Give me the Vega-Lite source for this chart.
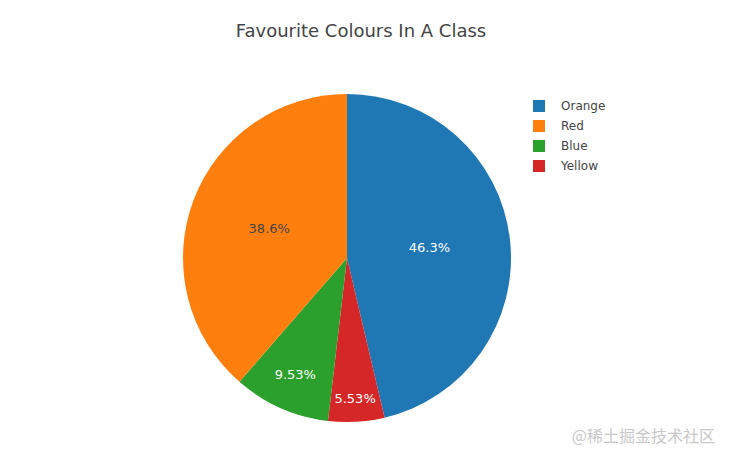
{
  "$schema": "https://vega.github.io/schema/vega-lite/v6.json",
  "autosize": "none",
  "width": 694,
  "height": 410,
  "padding": {"left": 0, "top": 53, "right": 36, "bottom": 0},
  "background": "white",
  "title": {
    "text": "Favourite Colours In A Class",
    "fontSize": 18,
    "font": "DejaVu Sans",
    "fontWeight": "normal",
    "color": "#444444",
    "anchor": "middle",
    "baseline": "alphabetic",
    "dx": 14,
    "offset": -2
  },
  "datasets": {
    "colours": [
      {"colour": "Orange", "share": 0.463, "rank": 1},
      {"colour": "Yellow", "share": 0.0553, "rank": 2},
      {"colour": "Blue", "share": 0.0953, "rank": 3},
      {"colour": "Red", "share": 0.386, "rank": 4}
    ],
    "watermark": [{"note": "@稀土掘金技术社区"}]
  },
  "layer": [
    {
      "data": {"name": "colours"},
      "mark": {"type": "arc", "outerRadius": 164},
      "encoding": {
        "theta": {"field": "share", "type": "quantitative", "stack": true},
        "order": {"field": "rank", "type": "quantitative"},
        "color": {
          "field": "colour",
          "type": "nominal",
          "scale": {
            "domain": ["Orange", "Red", "Blue", "Yellow"],
            "range": ["#1f77b4", "#ff7f0e", "#2ca02c", "#d62728"]
          },
          "legend": {
            "title": null,
            "orient": "none",
            "legendX": 533,
            "legendY": 47,
            "padding": 0,
            "symbolType": "square",
            "symbolSize": 144,
            "symbolStrokeWidth": 0,
            "symbolOpacity": 1,
            "labelFont": "DejaVu Sans",
            "labelFontSize": 12,
            "labelColor": "#444444",
            "labelOffset": 16,
            "rowPadding": 8
          }
        }
      }
    },
    {
      "data": {"name": "colours"},
      "mark": {"type": "text", "radius": 83, "font": "DejaVu Sans", "fontSize": 13},
      "encoding": {
        "theta": {"field": "share", "type": "quantitative", "stack": true},
        "order": {"field": "rank", "type": "quantitative"},
        "text": {
          "condition": {"test": "datum.share > 0.2", "field": "share", "type": "quantitative", "format": ".3~%"},
          "value": ""
        },
        "color": {
          "condition": {"test": "datum.colour === 'Red'", "value": "#444444"},
          "value": "#ffffff"
        }
      }
    },
    {
      "data": {"name": "colours"},
      "mark": {"type": "text", "radius": 128, "font": "DejaVu Sans", "fontSize": 13, "color": "#ffffff"},
      "encoding": {
        "theta": {"field": "share", "type": "quantitative", "stack": true},
        "order": {"field": "rank", "type": "quantitative"},
        "text": {
          "condition": {"test": "datum.colour === 'Blue'", "field": "share", "type": "quantitative", "format": ".3~%"},
          "value": ""
        }
      }
    },
    {
      "data": {"name": "colours"},
      "mark": {"type": "text", "radius": 141, "font": "DejaVu Sans", "fontSize": 13, "color": "#ffffff"},
      "encoding": {
        "theta": {"field": "share", "type": "quantitative", "stack": true},
        "order": {"field": "rank", "type": "quantitative"},
        "text": {
          "condition": {"test": "datum.colour === 'Yellow'", "field": "share", "type": "quantitative", "format": ".3~%"},
          "value": ""
        }
      }
    },
    {
      "data": {"name": "watermark"},
      "mark": {
        "type": "text",
        "x": {"expr": "width + 21"},
        "y": {"expr": "height - 26"},
        "align": "right",
        "baseline": "middle",
        "font": "Noto Sans CJK SC",
        "fontSize": 16,
        "color": "#c8c8c8"
      },
      "encoding": {
        "text": {"field": "note", "type": "nominal"}
      }
    }
  ],
  "config": {"view": {"stroke": null}}
}
